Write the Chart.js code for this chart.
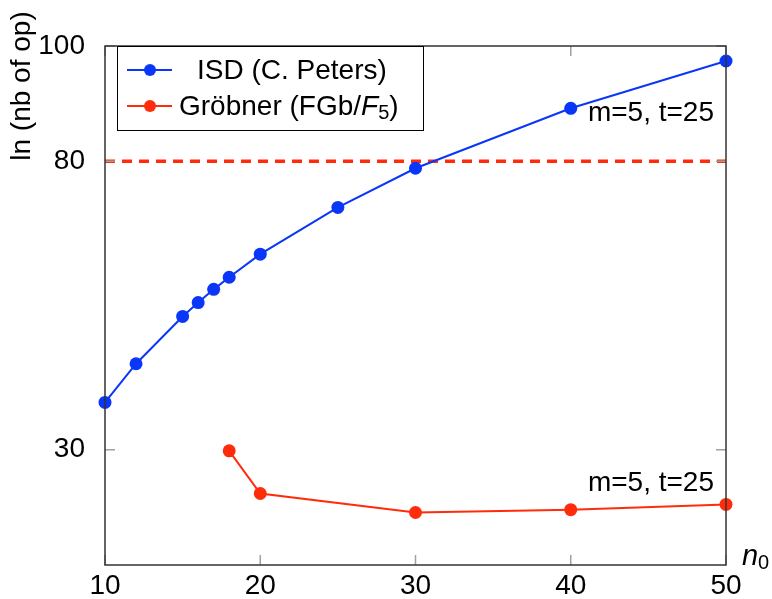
<!DOCTYPE html>
<html>
<head>
<meta charset="utf-8">
<script src="https://cdn.jsdelivr.net/npm/chart.js@4.4.1/dist/chart.umd.min.js"></script>
<style>
  html, body { margin: 0; background: #fff; }
  #wrap { width: 772px; height: 599px; }
</style>
</head>
<body>
<div id="wrap"><canvas id="chart" width="772" height="599"></canvas></div>
<script>
// ln(nb of op) en fonction de n0
const isdN      = [10, 12, 15, 16, 17, 18, 20, 25, 30, 40, 50];
const isdOps    = [38.2, 44.9, 53.1, 55.5, 57.8, 59.9, 63.9, 72.0, 78.8, 89.2, 97.4];
const grobN     = [18, 20, 30, 40, 50];
const grobOps   = [29.8, 22.4, 19.1, 19.6, 20.5];
const limitN    = [10, 50];
const limitOps  = [80, 80];
const xTicks    = [10, 20, 30, 40, 50];
const yTicks    = [30, 80, 100];
const labelIsd  = 'ISD (C. Peters)';
const annot     = 'm=5, t=25';

const BLUE = '#0a37f7';
const RED  = '#ff2c0c';
const FONT = '"Liberation Sans", Arial, Helvetica, sans-serif';
const FS = 28;

const pts = (xs, ys) => xs.map((x, i) => ({ x, y: ys[i] }));

// cadre, graduations internes, légende, annotations
const decor = {
  id: 'decor',
  afterDraw(chart) {
    const { ctx, chartArea: a, scales: { x, y } } = chart;
    ctx.save();

    // graduations vers l'intérieur
    ctx.strokeStyle = '#a0a0a0';
    ctx.lineWidth = 1.5;
    xTicks.forEach(v => {
      const px = x.getPixelForValue(v);
      ctx.beginPath();
      ctx.moveTo(px, a.bottom); ctx.lineTo(px, a.bottom - 10);
      ctx.moveTo(px, a.top);    ctx.lineTo(px, a.top + 10);
      ctx.stroke();
    });
    yTicks.forEach(v => {
      const py = y.getPixelForValue(v);
      ctx.beginPath();
      ctx.moveTo(a.left, py);  ctx.lineTo(a.left + 10, py);
      ctx.moveTo(a.right, py); ctx.lineTo(a.right - 10, py);
      ctx.stroke();
    });

    // cadre
    ctx.strokeStyle = '#333';
    ctx.lineWidth = 1.5;
    ctx.strokeRect(a.left, a.top, a.right - a.left, a.bottom - a.top);

    // titre axe y
    ctx.fillStyle = '#000';
    ctx.font = FS + 'px ' + FONT;
    ctx.textAlign = 'center';
    ctx.textBaseline = 'middle';
    ctx.save();
    ctx.translate(22, 86);
    ctx.rotate(-Math.PI / 2);
    ctx.fillText('ln (nb of op)', 0, 0);
    ctx.restore();

    // titre axe x : n0
    ctx.textAlign = 'left';
    ctx.textBaseline = 'alphabetic';
    ctx.font = 'italic 29px ' + FONT;
    ctx.fillText('n', 742, 565);
    ctx.font = '20px ' + FONT;
    ctx.fillText('0', 758, 569);

    // annotations
    ctx.font = FS + 'px ' + FONT;
    ctx.textAlign = 'right';
    ctx.textBaseline = 'middle';
    ctx.fillText(annot, a.right - 12, 113);
    ctx.fillText(annot, a.right - 12, 483);

    // légende
    const lx = 117, ly = 46, lw = 306, lh = 84;
    ctx.fillStyle = '#fff';
    ctx.fillRect(lx, ly, lw, lh);
    ctx.strokeStyle = '#000';
    ctx.lineWidth = 1;
    ctx.strokeRect(lx + 0.5, ly + 0.5, lw, lh);
    const rows = [
      { c: BLUE, y: ly + 24 },
      { c: RED,  y: ly + 60 }
    ];
    rows.forEach(r => {
      ctx.strokeStyle = r.c;
      ctx.lineWidth = 2;
      ctx.beginPath();
      ctx.moveTo(127, r.y); ctx.lineTo(172, r.y);
      ctx.stroke();
      ctx.fillStyle = r.c;
      ctx.beginPath();
      ctx.arc(150, r.y, 6, 0, Math.PI * 2);
      ctx.fill();
    });
    ctx.fillStyle = '#000';
    ctx.textAlign = 'left';
    ctx.textBaseline = 'middle';
    ctx.font = FS + 'px ' + FONT;
    ctx.fillText(labelIsd, 197, rows[0].y + 1);
    // Gröbner (FGb/F5)
    let tx = 179;
    const ty = rows[1].y + 1;
    const part = (txt, font, dy = 0) => {
      ctx.font = font;
      ctx.fillText(txt, tx, ty + dy);
      tx += ctx.measureText(txt).width;
    };
    part('Gröbner (FGb/', FS + 'px ' + FONT);
    part('F', 'italic ' + FS + 'px ' + FONT);
    part('5', '20px ' + FONT, 6);
    part(')', FS + 'px ' + FONT);

    ctx.restore();
  }
};

new Chart(document.getElementById('chart').getContext('2d'), {
  type: 'line',
  data: {
    datasets: [
      {
        label: labelIsd,
        data: pts(isdN, isdOps),
        borderColor: BLUE, backgroundColor: BLUE,
        borderWidth: 2, pointRadius: 6.5, pointBorderWidth: 0,
        clip: false
      },
      {
        label: 'Gröbner (FGb/F5)',
        data: pts(grobN, grobOps),
        borderColor: RED, backgroundColor: RED,
        borderWidth: 2, pointRadius: 6.5, pointBorderWidth: 0,
        clip: false
      },
      {
        label: 'seuil',
        data: pts(limitN, limitOps),
        borderColor: RED, borderWidth: 3.5, borderDash: [10, 7],
        pointRadius: 0, clip: false
      }
    ]
  },
  options: {
    responsive: false,
    animation: false,
    devicePixelRatio: 1,
    layout: { padding: { top: 46, right: 46, left: 0, bottom: 0 } },
    plugins: { legend: { display: false }, tooltip: { enabled: false } },
    scales: {
      x: {
        type: 'linear', min: 10, max: 50,
        afterBuildTicks: s => { s.ticks = xTicks.map(v => ({ value: v })); },
        afterFit: s => { s.height = 34; },
        grid: { display: false }, border: { display: false },
        ticks: { color: '#000', padding: -4, font: { family: FONT, size: FS } }
      },
      y: {
        type: 'linear', min: 10, max: 100,
        afterBuildTicks: s => { s.ticks = yTicks.map(v => ({ value: v })); },
        afterFit: s => { s.width = 105; },
        grid: { display: false }, border: { display: false },
        ticks: { color: '#000', padding: 12, font: { family: FONT, size: FS } }
      }
    }
  },
  plugins: [decor]
});
</script>
</body>
</html>
